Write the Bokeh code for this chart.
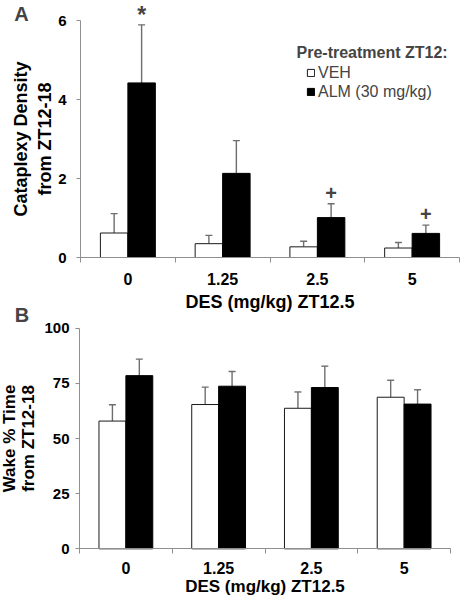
from bokeh.plotting import figure
from bokeh.models import (ColumnDataSource, Range1d, FixedTicker, Whisker, TeeHead,
                          Label, Legend, LegendItem, LinearAxis)
from bokeh.transform import dodge
from bokeh.embed import file_html
from bokeh.resources import INLINE

# ---- data ----
doses = ["0", "1.25", "2.5", "5"]
groups = ["VEH", "ALM (30 mg/kg)"]

cat_veh = [0.62, 0.35, 0.27, 0.24]
cat_veh_sem = [0.49, 0.21, 0.14, 0.14]
cat_alm = [4.42, 2.13, 1.01, 0.61]
cat_alm_sem = [1.47, 0.83, 0.35, 0.21]
cat_sig = ["*", "", "+", "+"]
cat_ticks = [0, 2, 4, 6]

wake_veh = [57.9, 65.4, 63.7, 68.7]
wake_veh_sem = [7.4, 7.9, 7.4, 7.7]
wake_alm = [78.5, 73.7, 73.1, 65.6]
wake_alm_sem = [7.5, 6.7, 9.7, 6.5]
wake_ticks = [0, 25, 50, 75, 100]

FONT = "Liberation Sans"
AXIS_COLOR = "#8f8f8f"
ERR_COLOR = "#6e6e6e"
OFF = 0.145
BAR_W = 0.29
W, H = 461, 600

# pixel layout of the two panels (one canvas, two coordinate systems)
# panel A: x 80px -> 0, 459px -> 4 ; y 257px -> 0, 20px -> 6
A_X0, A_XU = 80, 94.75
A_Y0, A_YU = 257, 39.5
# panel B: x 79px -> 0, 450px -> 4 ; y 548.3px -> 0, 327.7px -> 100
B_X0, B_XU = 79, 92.75
B_Y0, B_YU = 548.3, 2.206

p = figure(width=W, height=H,
           x_range=Range1d(-A_X0 / A_XU, (W - A_X0) / A_XU),
           y_range=Range1d((A_Y0 - H) / A_YU, A_Y0 / A_YU),
           output_backend="svg", toolbar_location=None,
           min_border_left=0, min_border_right=0, min_border_top=0, min_border_bottom=0)
p.extra_x_ranges = {"xb": Range1d(-B_X0 / B_XU, (W - B_X0) / B_XU)}
p.extra_y_ranges = {"wake": Range1d((B_Y0 - H) / B_YU, B_Y0 / B_YU)}
p.outline_line_color = None
p.xgrid.visible = False
p.ygrid.visible = False
p.background_fill_color = "white"
p.border_fill_color = "white"

centers = [i + 0.5 for i in range(len(doses))]


def style_x(ax, label_std, title_std, title_size):
    ax.fixed_location = 0
    ax.bounds = (0, len(doses))
    ax.ticker = FixedTicker(ticks=centers, minor_ticks=list(range(len(doses) + 1)))
    ax.major_label_overrides = {c: d for c, d in zip(centers, doses)}
    ax.major_tick_out = 0
    ax.major_tick_in = 0
    ax.minor_tick_out = 5
    ax.minor_tick_in = 0
    ax.minor_tick_line_color = AXIS_COLOR
    ax.axis_line_color = AXIS_COLOR
    ax.major_label_text_font = FONT
    ax.major_label_text_font_style = "bold"
    ax.major_label_text_font_size = "16px"
    ax.major_label_text_color = "black"
    ax.major_label_standoff = label_std
    ax.axis_label = "DES (mg/kg) ZT12.5"
    ax.axis_label_text_font = FONT
    ax.axis_label_text_font_style = "bold"
    ax.axis_label_text_font_size = title_size
    ax.axis_label_text_color = "black"
    ax.axis_label_standoff = title_std


def style_y(ax, ticks, label, label_std, title_std, title_size, lh):
    ax.fixed_location = 0
    ax.ticker = FixedTicker(ticks=ticks, minor_ticks=[])
    ax.bounds = (ticks[0], ticks[-1])
    ax.major_tick_out = 4
    ax.major_tick_in = 0
    ax.minor_tick_out = 0
    ax.minor_tick_in = 0
    ax.major_tick_line_color = AXIS_COLOR
    ax.axis_line_color = AXIS_COLOR
    ax.major_label_text_font = FONT
    ax.major_label_text_font_style = "bold"
    ax.major_label_text_font_size = "15px"
    ax.major_label_text_color = "black"
    ax.major_label_standoff = label_std
    ax.axis_label = label
    ax.axis_label_text_font = FONT
    ax.axis_label_text_font_style = "bold"
    ax.axis_label_text_font_size = title_size
    ax.axis_label_text_color = "black"
    ax.axis_label_text_line_height = lh
    ax.axis_label_standoff = title_std


def bars(veh, veh_sem, alm, alm_sem, **rng):
    src = ColumnDataSource(dict(
        x=centers, dose=doses,
        veh=veh, veh_top=[v + e for v, e in zip(veh, veh_sem)],
        alm=alm, alm_top=[v + e for v, e in zip(alm, alm_sem)],
    ))
    for col, top, off in (("veh", "veh_top", -OFF), ("alm", "alm_top", OFF)):
        p.add_layout(Whisker(source=src, base=dodge("x", off), lower=col, upper=top,
                             dimension="height", line_color=ERR_COLOR, line_width=1.4,
                             upper_head=TeeHead(size=7, line_color=ERR_COLOR, line_width=1.4),
                             lower_head=None, **rng))
    rv = p.vbar(x=dodge("x", -OFF), top="veh", width=BAR_W, bottom=0, source=src,
                fill_color="white", line_color="#1a1a1a", line_width=1, **rng)
    ra = p.vbar(x=dodge("x", OFF), top="alm", width=BAR_W, bottom=0, source=src,
                fill_color="black", line_color="black", line_width=1, **rng)
    return src, rv, ra


# ---------- panel A ----------
src_a, rv, ra = bars(cat_veh, cat_veh_sem, cat_alm, cat_alm_sem)
style_x(p.xaxis[0], 10, 4, "18px")
style_y(p.yaxis[0], cat_ticks, "Cataplexy Density\nfrom ZT12-18", 10, 0, "18px", 1.2)

for i, s in enumerate(cat_sig):
    if s:
        lift = (10 if s == "*" else 11) / A_YU
        p.add_layout(Label(x=src_a.data["x"][i] + OFF, y=src_a.data["alm_top"][i] + lift,
                           text=s, text_font=FONT, text_font_style="bold",
                           text_font_size="23px" if s == "*" else "20px",
                           text_align="center", text_baseline="middle"))

p.add_layout(Label(x=296, y=H - 52, x_units="screen", y_units="screen",
                   text="Pre-treatment ZT12:", text_font=FONT, text_font_style="bold",
                   text_font_size="16px", text_baseline="middle"))
leg = Legend(items=[LegendItem(label=groups[0], renderers=[rv]),
                    LegendItem(label=groups[1], renderers=[ra])],
             location=(306, H - 101), orientation="vertical",
             glyph_width=9, glyph_height=9, label_height=19, label_standoff=3,
             spacing=0, padding=0, margin=0, background_fill_alpha=0,
             border_line_color=None, label_text_font=FONT, label_text_font_size="16px")
p.add_layout(leg)

p.add_layout(Label(x=21, y=H - 13, x_units="screen", y_units="screen", text="A",
                   text_font=FONT, text_font_style="bold", text_font_size="20px",
                   text_align="center", text_baseline="middle"))

# ---------- panel B ----------
rng_b = dict(x_range_name="xb", y_range_name="wake")
bars(wake_veh, wake_veh_sem, wake_alm, wake_alm_sem, **rng_b)
xb = LinearAxis(**rng_b)
style_x(xb, 8, 0, "17px")
p.add_layout(xb, "below")
yb = LinearAxis(**rng_b)
style_y(yb, wake_ticks, "Wake % Time\nfrom ZT12-18", 6, 3, "17px", 1.05)
p.add_layout(yb, "left")

p.add_layout(Label(x=21.5, y=H - 314, x_units="screen", y_units="screen", text="B",
                   text_font=FONT, text_font_style="bold", text_font_size="20px",
                   text_align="center", text_baseline="middle"))

open("out.html", "w").write(file_html(p, INLINE))
